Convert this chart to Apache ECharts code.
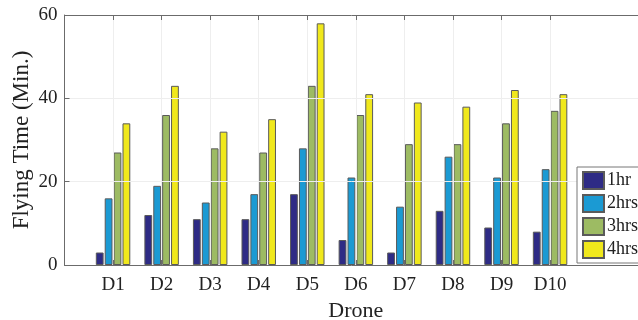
<!DOCTYPE html>
<html>
<head>
<meta charset="utf-8">
<script src="https://cdn.jsdelivr.net/npm/echarts@6/dist/echarts.min.js"></script>
<style>html,body{margin:0;padding:0;background:#fff;}#c{width:638px;height:320px;}</style>
</head>
<body>
<div id="c"></div>
<script>
const categories = ['D1','D2','D3','D4','D5','D6','D7','D8','D9','D10'];
const seriesNames = ['1hr','2hrs','3hrs','4hrs'];
const hr1 = [3, 12, 11, 11, 17, 6, 3, 13, 9, 8];
const hr2 = [16, 19, 15, 17, 28, 21, 14, 26, 21, 23];
const hr3 = [27, 36, 28, 27, 43, 36, 29, 29, 34, 37];
const hr4 = [34, 43, 32, 35, 58, 41, 39, 38, 42, 41];
const yTicks = [0, 20, 40, 60];
const colors = ['#2e2b85', '#1b9ad3', '#9dbb63', '#f0e81c'];

// xlim [0, 12]: pad categories so D1..D10 sit at 1..10
const xCats = [''].concat(categories, ['', '']);
const pad = arr => [null].concat(arr, [null, null]);
const allVals = [hr1, hr2, hr3, hr4];
const font = 'Liberation Serif';
const frame = '#6b6b6b';
const showTick = (i, v) => v !== '';

const chart = echarts.init(document.getElementById('c'), null, {renderer: 'canvas'});
chart.setOption({
  animation: false,
  backgroundColor: '#fff',
  textStyle: {fontFamily: font},
  grid: {left: 64.5, top: 15, width: 582.7, height: 250, containLabel: false, outerBoundsMode: 'none'},
  legend: {
    orient: 'vertical', left: 577, top: 167, z: 20,
    icon: 'rect', itemWidth: 21, itemHeight: 17, itemGap: 4,
    padding: [4, 6, 4, 5],
    borderColor: '#777', borderWidth: 1, backgroundColor: '#fff',
    textStyle: {fontFamily: font, fontSize: 18, color: '#222', padding: [0, 0, 0, -2]},
    data: seriesNames
  },
  xAxis: [{
    type: 'category', data: xCats, boundaryGap: false, position: 'bottom', z: 5,
    name: 'Drone', nameLocation: 'middle', nameGap: 35, nameMoveOverlap: false,
    nameTextStyle: {fontFamily: font, fontSize: 22, color: '#222'},
    axisLine: {show: true, lineStyle: {color: frame, width: 1}},
    axisTick: {show: true, inside: true, length: 5, interval: showTick, lineStyle: {color: frame}},
    axisLabel: {interval: 0, fontFamily: font, fontSize: 19, color: '#222', margin: 11},
    splitLine: {show: true, interval: showTick, lineStyle: {color: '#eeeeee', width: 1}}
  }, {
    type: 'category', data: xCats, boundaryGap: false, position: 'top', z: 5,
    axisLine: {show: true, lineStyle: {color: frame, width: 1}},
    axisTick: {show: true, inside: true, length: 5, interval: showTick, lineStyle: {color: frame}},
    axisLabel: {show: false},
    splitLine: {show: false}
  }],
  yAxis: {
    type: 'value', min: yTicks[0], max: yTicks[yTicks.length - 1], interval: 20, z: 5,
    name: 'Flying Time (Min.)', nameLocation: 'middle', nameGap: 31, nameMoveOverlap: false,
    nameTextStyle: {fontFamily: font, fontSize: 23, color: '#222'},
    axisLine: {show: true, lineStyle: {color: frame, width: 1}},
    axisTick: {show: true, inside: true, length: 5, lineStyle: {color: frame}},
    axisLabel: {fontFamily: font, fontSize: 19, color: '#222', margin: 7},
    splitLine: {show: true, lineStyle: {color: '#eeeeee', width: 1}}
  },
  series: seriesNames.map((n, i) => ({
    name: n, type: 'bar', xAxisIndex: 0,
    data: pad(allVals[i]),
    barWidth: 7.8, barGap: '14%',
    itemStyle: {color: colors[i], borderColor: '#5a5a5a', borderWidth: 1}
  }))
});
</script>
</body>
</html>
